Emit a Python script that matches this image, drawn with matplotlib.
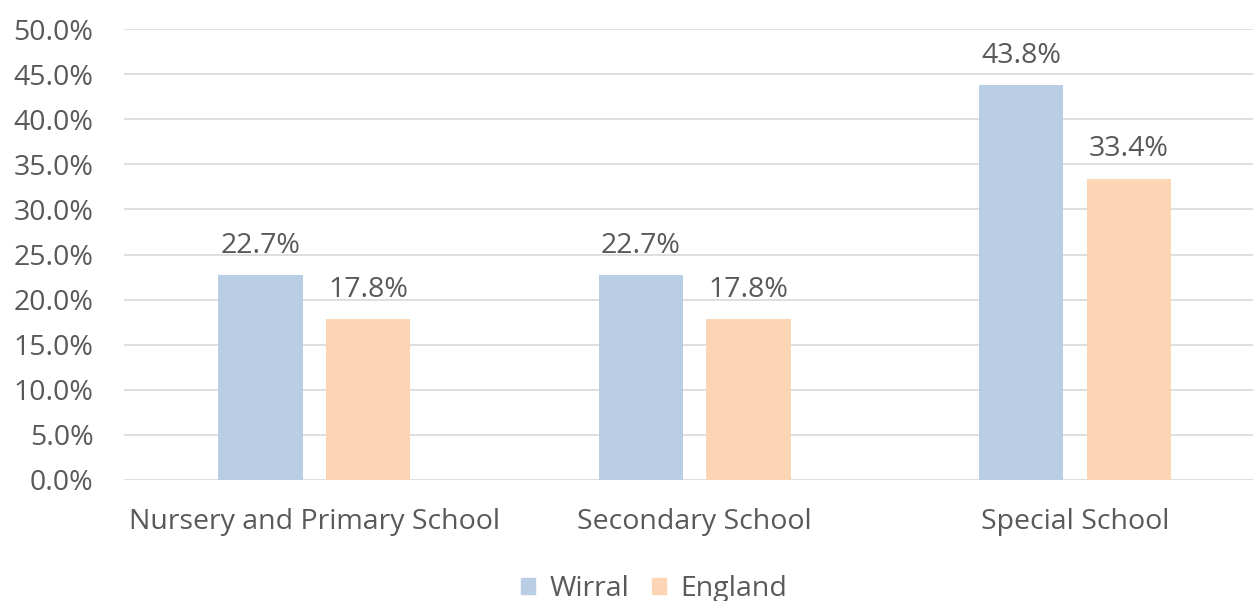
import numpy as np
import matplotlib.pyplot as plt
from matplotlib.patches import Patch

categories = ["Nursery and Primary School", "Secondary School", "Special School"]
wirral = [22.7, 22.7, 43.8]
england = [17.8, 17.8, 33.4]
yticks = [0, 5, 10, 15, 20, 25, 30, 35, 40, 45, 50]

c_wirral = "#B9CDE5"
c_england = "#FCD5B5"
txt = "#595959"

plt.rcParams['font.family'] = ['Open Sans', 'DejaVu Sans']
fs = 20.5

fig = plt.figure(figsize=(12.53, 6.01), dpi=100)
ax = fig.add_axes([124/1253, 121/601, 1 - 124/1253, 451/601])

x = np.arange(len(categories))
w = 0.222
off = 0.1415
b1 = ax.bar(x - off, wirral, w, color=c_wirral, zorder=3)
b2 = ax.bar(x + off, england, w, color=c_england, zorder=3)

for bars, vals in ((b1, wirral), (b2, england)):
    for r, v in zip(bars, vals):
        ax.text(r.get_x() + r.get_width()/2, v + 1.7, f"{v:.1f}%",
                ha='center', va='bottom', fontsize=fs, color=txt)

ax.set_xlim(-0.5, 2.468)
ax.set_ylim(0, 50)
ax.set_yticks(yticks)
ax.set_yticklabels([f"{t:.1f}%" for t in yticks], fontsize=fs, color=txt)
ax.set_xticks(x)
ax.set_xticklabels(categories, fontsize=fs, color=txt)
ax.tick_params(axis='both', length=0)
ax.tick_params(axis='y', pad=22)
ax.tick_params(axis='x', pad=20)
ax.grid(axis='y', color='#D9D9D9', lw=1.2, zorder=0)
for s in ax.spines.values():
    s.set_visible(False)

handles = [Patch(color=c_wirral, label='Wirral'), Patch(color=c_england, label='England')]
fig.legend(handles=handles, loc='center', bbox_to_anchor=(0.522, 12/601), ncol=2,
           frameon=False, fontsize=fs, labelcolor=txt, handlelength=0.5, handleheight=0.5,
           columnspacing=0.8, handletextpad=0.5)

fig.savefig("out.png", dpi=100)
